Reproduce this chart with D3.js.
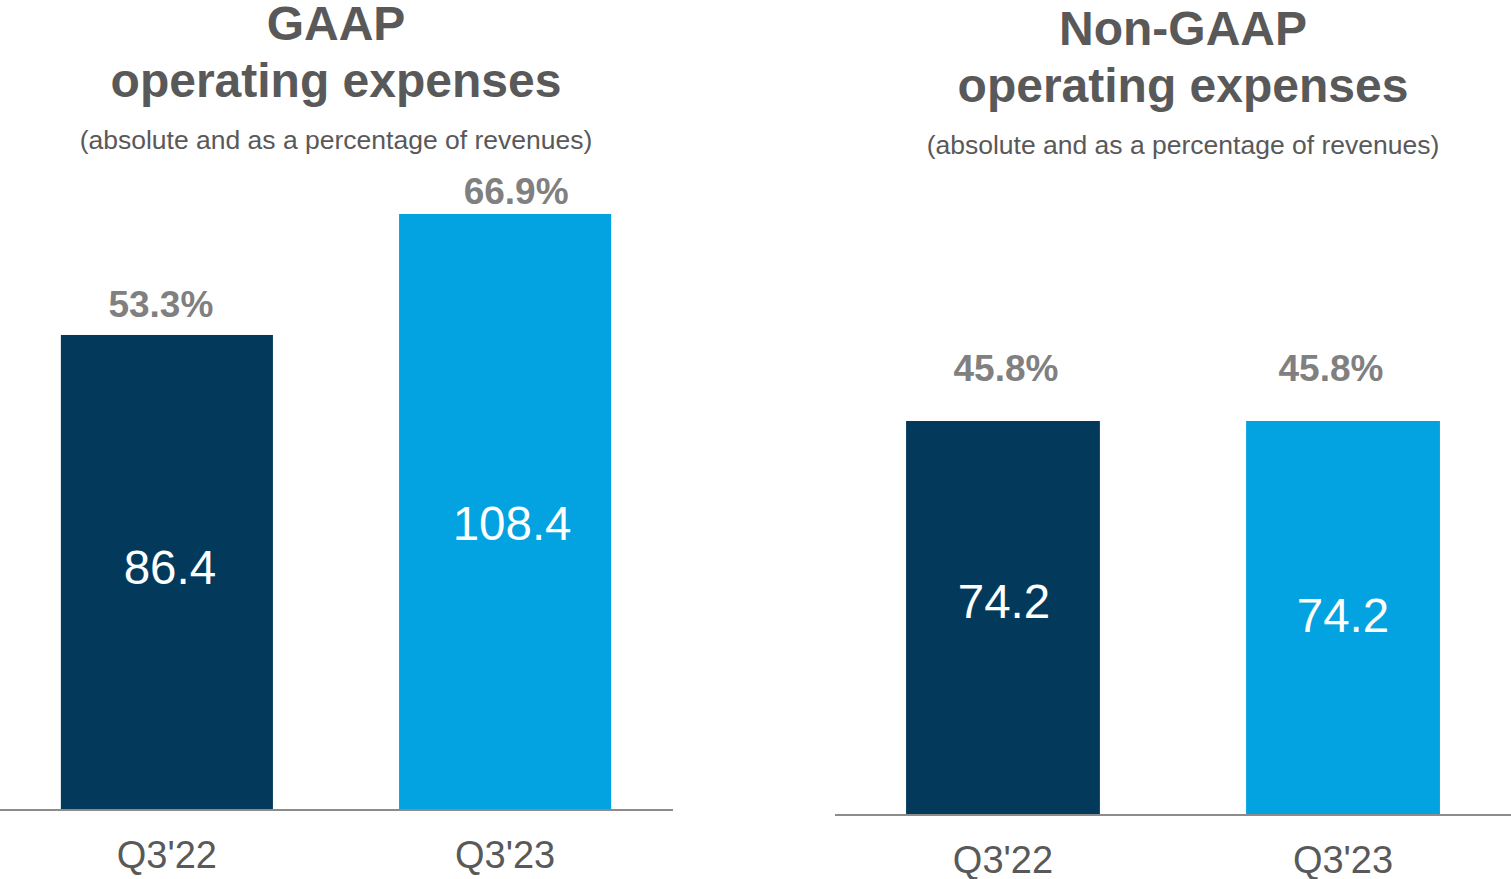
<!DOCTYPE html>
<html>
<head>
<meta charset="utf-8">
<script src="https://cdn.jsdelivr.net/npm/d3@7"></script>
<style>
  html, body { margin: 0; padding: 0; background: #ffffff; }
  svg { display: block; }
  text { font-family: "Liberation Sans", Arial, sans-serif; }
</style>
</head>
<body>
<svg id="chart" width="1511" height="879"></svg>
<script>
// ---- Data ----
const categories = ["Q3'22", "Q3'23"];
const gaapValues = [86.4, 108.4];
const gaapPercents = ["53.3%", "66.9%"];
const nonGaapValues = [74.2, 74.2];
const nonGaapPercents = ["45.8%", "45.8%"];
const gaapTitle = ["GAAP", "operating expenses"];
const nonGaapTitle = ["Non-GAAP", "operating expenses"];
const subtitleText = "(absolute and as a percentage of revenues)";
const barColors = ["#033a5c", "#03a2e0"];

const svg = d3.select("#chart");

function drawPanel(cfg) {
  const g = svg.append("g");
  const x = d3.scaleBand()
    .domain(categories)
    .range([cfg.x0, cfg.x1])
    .paddingInner(cfg.padIn)
    .paddingOuter(cfg.padOut);
  const y = d3.scaleLinear()
    .domain([0, 120])
    .range([cfg.base, cfg.base - 120 * cfg.pxPerUnit]);

  const data = categories.map((c, i) => ({ c, v: cfg.values[i], p: cfg.percents[i], i }));

  // Titles
  const cx = cfg.titleX;
  g.append("text").attr("x", cx).attr("y", cfg.titleY)
    .attr("text-anchor", "middle").attr("font-size", 48).attr("font-weight", "bold")
    .attr("fill", "#595959").text(cfg.title[0]);
  g.append("text").attr("x", cx).attr("y", cfg.titleY + 57)
    .attr("text-anchor", "middle").attr("font-size", 48).attr("font-weight", "bold")
    .attr("fill", "#595959").text(cfg.title[1]);
  g.append("text").attr("x", cx).attr("y", cfg.titleY + 109)
    .attr("text-anchor", "middle").attr("font-size", 26.5)
    .attr("fill", "#595959").text(subtitleText);

  // Bars
  g.selectAll("rect.bar").data(data).join("rect")
    .attr("class", "bar")
    .attr("x", d => x(d.c))
    .attr("width", x.bandwidth())
    .attr("y", d => y(d.v))
    .attr("height", d => y(0) - y(d.v))
    .attr("fill", d => barColors[d.i]);

  // Axis (baseline + category labels)
  const axis = d3.axisBottom(x).tickSize(0).tickPadding(0);
  const ag = g.append("g").attr("transform", `translate(0,${cfg.base})`).call(axis);
  ag.select(".domain").attr("stroke", "#8c8c8c").attr("stroke-width", 2)
    .attr("d", `M${cfg.axisX0},0H${cfg.axisX1}`);
  ag.selectAll(".tick text")
    .attr("y", 58).attr("dy", 0)
    .attr("font-size", 38)
    .attr("font-family", "'Liberation Sans', Arial, sans-serif")
    .attr("fill", "#595959");

  // Value labels inside bars
  g.selectAll("text.val").data(data).join("text")
    .attr("class", "val")
    .attr("x", d => x(d.c) + x.bandwidth() / 2 + cfg.valDx[d.i])
    .attr("y", d => (y(d.v) + y(0)) / 2 + 16 + cfg.valDy[d.i])
    .attr("text-anchor", "middle")
    .attr("font-size", 47.5)
    .attr("fill", "#ffffff")
    .text(d => d.v.toFixed(1));

  // Percent labels above bars
  g.selectAll("text.pct").data(data).join("text")
    .attr("class", "pct")
    .attr("x", d => x(d.c) + x.bandwidth() / 2 + cfg.pctDx[d.i])
    .attr("y", d => y(d.v) - cfg.pctGap[d.i])
    .attr("text-anchor", "middle")
    .attr("font-size", 37)
    .attr("font-weight", "bold")
    .attr("fill", "#808080")
    .text(d => d.p);
}

drawPanel({
  values: gaapValues, percents: gaapPercents, title: gaapTitle,
  x0: 0, x1: 672, padIn: 0.373, padOut: 0.18,
  axisX0: 0, axisX1: 673,
  base: 810, pxPerUnit: 5.498,
  titleX: 336, titleY: 40,
  valDx: [3, 7], valDy: [-4, 12],
  pctDx: [-6, 11], pctGap: [18, 10]
});

drawPanel({
  values: nonGaapValues, percents: nonGaapPercents, title: nonGaapTitle,
  x0: 835, x1: 1511, padIn: 0.43, padOut: 0.209,
  axisX0: 835, axisX1: 1511,
  base: 815, pxPerUnit: 5.31,
  titleX: 1183, titleY: 45,
  valDx: [1, 0], valDy: [-16, -2],
  pctDx: [3, -12], pctGap: [40, 40]
});
</script>
</body>
</html>
